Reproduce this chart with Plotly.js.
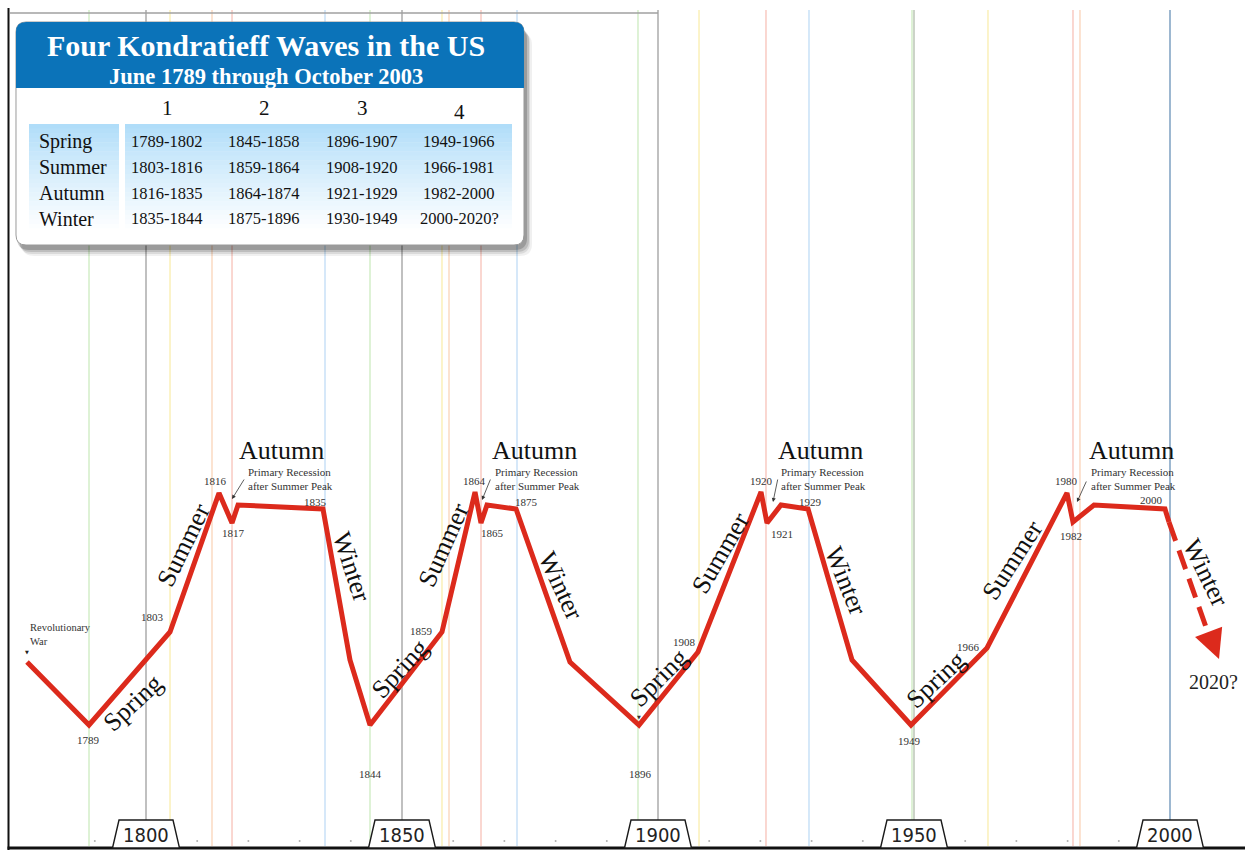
<!DOCTYPE html>
<html><head><meta charset="utf-8">
<script src="https://cdn.plot.ly/plotly-3.0.1.min.js"></script>
<style>html,body{margin:0;padding:0;background:#fff;overflow:hidden}#chart{width:1245px;height:850px}</style>
</head><body><div id="chart"></div>
<script>
// ---------------- DATA ----------------
// schematic wave path: x = position on the year axis, y = relative activity level
const waveYears = [1776.76, 1788.87, 1804.69, 1814.26, 1816.80, 1817.97, 1834.57, 1839.84, 1843.75,
  1857.81, 1864.26, 1865.43, 1866.60, 1872.27, 1882.81, 1896.29, 1907.81, 1920.12, 1921.29,
  1924.02, 1929.30, 1937.89, 1949.41, 1964.26, 1979.88, 1981.05, 1985.16, 1999.02, 1999.80];
const waveLevel = [188, 125, 218, 357, 327, 345, 341, 190, 125,
  218, 358, 327, 345, 341, 188, 125, 198, 358, 327,
  345, 341, 190, 125, 202, 357, 328, 345, 341, 328];
const waveLabels = ['', '1789', '1803', '1816', '1817', '', '1835', '', '1844',
  '1859', '1864', '1865', '', '1875', '', '1896', '1908', '1920', '1921',
  '', '1929', '', '1949', '1966', '1980', '1982', '', '2000', ''];
// forecast (dashed) winter of wave 4
const forecastYears = [1999.80, 2007.23];
const forecastLevel = [328, 220];
const forecastTipYears = [2009.57];
const forecastTipLevel = [191];
const forecastLabel = '2020?';
const startLabel = 'Revolutionary<br>War';
const recessionLabel = 'Primary Recession<br>after Summer Peak';

// axis
const decadeYears = [1800, 1850, 1900, 1950, 2000];
const decadeLabels = ['1800', '1850', '1900', '1950', '2000'];
const minorTickYears = [1790, 1810, 1820, 1830, 1840, 1860, 1870, 1880, 1890, 1910, 1920, 1930, 1940, 1960, 1970, 1980, 1990];

// season boundary lines
const boundaryYears = [1788.87, 1804.69, 1812.89, 1816.80, 1834.96, 1843.75, 1857.81, 1859.18, 1865.43, 1872.46,
  1896.09, 1908.01, 1921.09, 1929.49, 1949.61, 1964.45, 1981.05, 1982.42, 2000.0];
const boundaryKinds = ['spring', 'summer', 'autumn', 'recession', 'winter', 'spring', 'summer', 'autumn', 'recession', 'winter',
  'spring', 'summer', 'recession', 'winter', 'spring', 'summer', 'recession', 'autumn', 'winter'];

// table
const tableTitle = 'Four Kondratieff Waves in the US';
const tableSubtitle = 'June 1789 through October 2003';
const waveNumbers = ['1', '2', '3', '4'];
const seasonNames = ['Spring', 'Summer', 'Autumn', 'Winter'];
const seasonPeriods = [
  ['1789-1802', '1845-1858', '1896-1907', '1949-1966'],
  ['1803-1816', '1859-1864', '1908-1920', '1966-1981'],
  ['1816-1835', '1864-1874', '1921-1929', '1982-2000'],
  ['1835-1844', '1875-1896', '1930-1949', '2000-2020?']
];

// ---------------- LAYOUT / STYLE ----------------
const W = 1245, H = 850;
const PXY = 5.12;                 // pixels per year
const X0 = 1800 - 146 / PXY;      // year at left page edge
const X1 = X0 + W / PXY;
const px2x = px => X0 + px / PXY;
const py2y = py => H - py;
const RED = '#dc2a1c';
const SERIF = '"Liberation Serif","Times New Roman",Times,serif';
const NARROW = '"Liberation Sans Narrow","Arial Narrow","DejaVu Sans Condensed","Liberation Sans",sans-serif';
const kindColor = {spring: '#d6efcc', summer: '#fbf1bd', autumn: '#fbdcc6', recession: '#f9cdc6', winter: '#cce3f8'};

// label offsets [dx, dy] in px (screen; dy positive = down) for waveLabels
const labelOffsets = {
  '1789': [-1, 15], '1803': [-18, -15], '1816': [-4, -12], '1817': [1, 10], '1835': [-8, -7],
  '1844': [0, 49], '1859': [-20, -1], '1864': [-1, -11], '1865': [11, 10], '1875': [10, -7],
  '1896': [1, 49], '1908': [-13, -10], '1920': [0, -11], '1921': [15, 11], '1929': [2, -7],
  '1949': [-1, 16], '1966': [-19, -1], '1980': [0, -12], '1982': [-2, 14], '2000': [-13, -9]
};
// season word labels along the path: [text, px, py, angle]
const seasonWords = [
  ['Spring', 132, 703, -43], ['Summer', 183, 545, -64], ['Autumn', 281, 450, 0], ['Winter', 352, 566, 72],
  ['Spring', 399, 669, -47], ['Summer', 443, 545, -66], ['Autumn', 534, 450, 0], ['Winter', 561, 585, 65],
  ['Spring', 658, 678, -45], ['Summer', 720, 553, -60], ['Autumn', 820, 450, 0], ['Winter', 846, 580, 68],
  ['Spring', 935, 680, -43], ['Summer', 1012, 560, -57], ['Autumn', 1131, 450, 0], ['Winter', 1206, 572, 64]
];
// primary recession notes: text left px, arrow tail px, arrow head px
const recessionNotes = [
  [246, [245, 478], [232, 499]],
  [493, [491, 478], [482, 500]],
  [779, [778, 478], [773, 502]],
  [1089, [1087, 480], [1077, 502]]
];

// ---------------- TRACES ----------------
const traces = [
  {x: minorTickYears, y: minorTickYears.map(() => 9), mode: 'markers', type: 'scatter',
   marker: {size: 2, color: '#b0b0b0'}, hoverinfo: 'skip'},
  {x: waveYears, y: waveLevel, mode: 'lines', type: 'scatter',
   line: {color: RED, width: 5}, hoverinfo: 'skip'},
  {x: forecastYears, y: forecastLevel, mode: 'lines', type: 'scatter',
   line: {color: RED, width: 5, dash: '20px,10px'}, hoverinfo: 'skip'},
  {x: forecastTipYears, y: forecastTipLevel, mode: 'markers', type: 'scatter',
   marker: {symbol: 'arrow-down', size: 29, angle: -21, color: RED, line: {width: 0}}, hoverinfo: 'skip'}
];

// ---------------- SHAPES ----------------
const shapes = [];
// season boundary lines
boundaryYears.forEach((yr, i) => shapes.push({type: 'line', layer: 'below', xref: 'x', yref: 'y',
  x0: yr, x1: yr, y0: py2y(10), y1: py2y(846), line: {color: kindColor[boundaryKinds[i]], width: 1.6}}));
// decade lines
decadeYears.forEach((yr, i) => shapes.push({type: 'line', layer: 'below', xref: 'x', yref: 'y',
  x0: yr, x1: yr, y0: py2y(10), y1: py2y(820),
  line: {color: i === 4 ? '#6f8fb0' : (i === 3 ? '#a3b09c' : '#8c8c8c'), width: 1.1}}));
// top grey rule
shapes.push({type: 'line', layer: 'below', xref: 'x', yref: 'y', x0: px2x(10), x1: decadeYears[2],
  y0: py2y(13), y1: py2y(13), line: {color: '#a0a0a0', width: 1.5}});
// left border and bottom base line
shapes.push({type: 'line', layer: 'below', xref: 'x', yref: 'y', x0: px2x(8.5), x1: px2x(8.5),
  y0: py2y(8), y1: py2y(850), line: {color: '#111', width: 2}});
shapes.push({type: 'line', layer: 'above', xref: 'x', yref: 'y', x0: px2x(7.5), x1: X1,
  y0: py2y(848), y1: py2y(848), line: {color: '#111', width: 3}});
// decade tabs (trapezoids)
const tabTop = 27 / PXY, tabBot = 33.5 / PXY;
decadeYears.forEach(yr => shapes.push({type: 'path', layer: 'above', xref: 'x', yref: 'y',
  path: `M ${yr - tabBot},${py2y(848)} L ${yr - tabTop},${py2y(820)} L ${yr + tabTop},${py2y(820)} L ${yr + tabBot},${py2y(848)} Z`,
  fillcolor: '#fff', line: {color: '#1a1a1a', width: 1.4}}));

// table box helpers (page px -> paper)
const P = (x, y) => `${(x / W).toFixed(5)},${(1 - y / H).toFixed(5)}`;
function rr(x0, y0, x1, y1, r, top = true, bottom = true) {
  const rt = top ? r : 0, rb = bottom ? r : 0;
  return `M ${P(x0 + rt, y0)} L ${P(x1 - rt, y0)} Q ${P(x1, y0)} ${P(x1, y0 + rt)} ` +
    `L ${P(x1, y1 - rb)} Q ${P(x1, y1)} ${P(x1 - rb, y1)} L ${P(x0 + rb, y1)} Q ${P(x0, y1)} ${P(x0, y1 - rb)} ` +
    `L ${P(x0, y0 + rt)} Q ${P(x0, y0)} ${P(x0 + rt, y0)} Z`;
}
const box = {x0: 16, y0: 22, x1: 524, y1: 245, hdr: 88};
[[8, 11, 0.06], [6, 9, 0.09], [5, 7, 0.13], [3, 5, 0.18]].forEach(([dx, dy, a]) =>
  shapes.push({type: 'path', layer: 'above', xref: 'paper', yref: 'paper',
    path: rr(box.x0 + dx - 2, box.y0 + dy, box.x1 + dx, box.y1 + dy, 12),
    fillcolor: `rgba(0,0,0,${a})`, line: {width: 0}}));
shapes.push({type: 'path', layer: 'above', xref: 'paper', yref: 'paper', path: rr(box.x0, box.y0, box.x1, box.y1, 10),
  fillcolor: '#fff', line: {color: '#9a9a9a', width: 1}});
shapes.push({type: 'path', layer: 'above', xref: 'paper', yref: 'paper', path: rr(box.x0, box.y0, box.x1, box.hdr, 10, true, false),
  fillcolor: '#0b73b9', line: {width: 0}});
// gradient panels
const panels = [[29, 119], [125, 512]];
const gTop = 124, gBot = 233, N = 24;
const c0 = [176, 221, 249], c1 = [255, 255, 255];
panels.forEach(([a, b]) => {
  for (let i = 0; i < N; i++) {
    const t = i / (N - 1);
    const c = c0.map((v, k) => Math.round(v + (c1[k] - v) * Math.pow(t, 0.9)));
    const ya = gTop + (gBot - gTop) * i / N, yb = gTop + (gBot - gTop) * (i + 1) / N + 0.5;
    shapes.push({type: 'rect', layer: 'above', xref: 'paper', yref: 'paper',
      x0: a / W, x1: b / W, y0: 1 - ya / H, y1: 1 - yb / H, fillcolor: `rgb(${c.join(',')})`, line: {width: 0}});
  }
});

// ---------------- ANNOTATIONS ----------------
const ann = [];
// wave vertex year labels
waveLabels.forEach((lab, i) => {
  if (!lab) return;
  const [dx, dy] = labelOffsets[lab];
  ann.push({x: waveYears[i], y: waveLevel[i], xref: 'x', yref: 'y', text: lab, showarrow: false,
    xanchor: 'center', yanchor: 'middle',
    xshift: dx, yshift: -dy, font: {family: SERIF, size: 11, color: '#333'}});
});
// start note
ann.push({x: waveYears[0], y: waveLevel[0], xref: 'x', yref: 'y', text: startLabel, showarrow: false,
  xanchor: 'left', yanchor: 'middle', align: 'left', xshift: 1, yshift: 28, font: {family: SERIF, size: 10.5, color: '#333'}});
ann.push({x: waveYears[0], y: waveLevel[0], xref: 'x', yref: 'y', text: '▼', showarrow: false,
  xanchor: 'center', yanchor: 'middle', yshift: 10, font: {family: '"DejaVu Sans"', size: 5, color: '#222'}});
ann.push({x: waveYears[15], y: waveLevel[15], xref: 'x', yref: 'y', text: '▼', showarrow: false,
  xanchor: 'center', yanchor: 'middle', yshift: 8, font: {family: '"DejaVu Sans"', size: 5, color: '#333'}});
// forecast label
ann.push({x: forecastTipYears[0], y: forecastTipLevel[0], xref: 'x', yref: 'y', text: forecastLabel, showarrow: false,
  xanchor: 'center', yanchor: 'middle', xshift: -6, yshift: -23, font: {family: SERIF, size: 20, color: '#222'}});
// season words
seasonWords.forEach(([t, x, y, a]) => ann.push({x: px2x(x), y: py2y(y), xref: 'x', yref: 'y', text: t, showarrow: false,
  xanchor: 'center', yanchor: 'middle', textangle: a, font: {family: SERIF, size: 26, color: '#111'}}));
// primary recession notes
recessionNotes.forEach(([lx, tail, head]) => {
  ann.push({x: px2x(lx), y: py2y(479), xref: 'x', yref: 'y', text: recessionLabel, showarrow: false,
    xanchor: 'left', yanchor: 'middle', align: 'left', font: {family: SERIF, size: 11, color: '#333'}});
  ann.push({x: px2x(head[0]), y: py2y(head[1]), xref: 'x', yref: 'y', text: '', showarrow: true,
    ax: tail[0] - head[0], ay: tail[1] - head[1], arrowhead: 2, arrowsize: 1, arrowwidth: 0.8, arrowcolor: '#333', standoff: 0});
});
// decade tab labels
decadeYears.forEach((yr, i) => ann.push({x: yr, y: py2y(835), xref: 'x', yref: 'y', text: decadeLabels[i], showarrow: false,
  xanchor: 'center', yanchor: 'middle', font: {family: NARROW, size: 20, color: '#222'}}));
// table texts
const pa = (x, y, text, font, extra = {}) => ann.push(Object.assign({x: x / W, y: 1 - y / H, xref: 'paper', yref: 'paper',
  text, showarrow: false, xanchor: 'center', yanchor: 'middle', font}, extra));
pa(266, 46, '<b>' + tableTitle + '</b>', {family: SERIF, size: 30, color: '#fff'});
pa(266, 77, '<b>' + tableSubtitle + '</b>', {family: SERIF, size: 22.5, color: '#fff'});
const colX = [167, 264, 362, 459];
const rowY = [142, 167, 193, 219];
waveNumbers.forEach((n, j) => pa(colX[j], j === 3 ? 112 : 108, n, {family: SERIF, size: 21, color: '#111'}));
seasonNames.forEach((s, i) => {
  pa(37, rowY[i], s, {family: SERIF, size: 20, color: '#111'}, {xanchor: 'left'});
  seasonPeriods[i].forEach((p, j) => pa(colX[j], rowY[i], p, {family: SERIF, size: 16.5, color: '#111'}));
});

const layout = {
  width: W, height: H, margin: {l: 0, r: 0, t: 0, b: 0}, showlegend: false,
  paper_bgcolor: '#fff', plot_bgcolor: '#fff', hovermode: false,
  xaxis: {range: [X0, X1], visible: false, fixedrange: true},
  yaxis: {range: [0, H], visible: false, fixedrange: true},
  shapes, annotations: ann
};
Plotly.newPlot('chart', traces, layout, {staticPlot: true, displayModeBar: false});
</script></body></html>
